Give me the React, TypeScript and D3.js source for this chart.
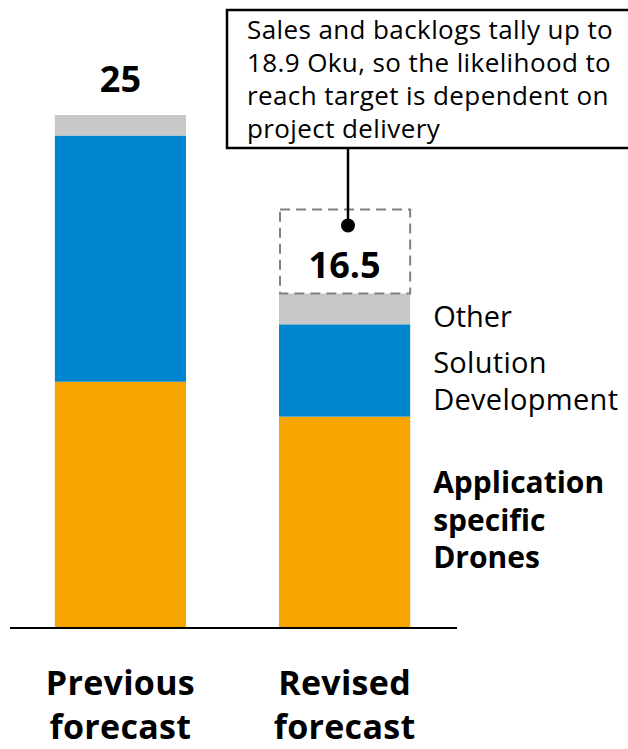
import React from "react";
import * as d3 from "d3";

const categories = ["Previous forecast", "Revised forecast"];
const categoryLines = [["Previous", "forecast"], ["Revised", "forecast"]];
const seriesKeys = ["drones", "solution", "other"];
const dronesValues = [12.0, 10.3];
const solutionValues = [12.0, 4.5];
const otherValues = [1.0, 1.5];
const totalLabels = ["25", "16.5"];
const legendLines = [["Other"], ["Solution", "Development"], ["Application", "specific", "Drones"]];
const calloutLines = [
  "Sales and backlogs tally up to",
  "18.9 Oku, so the likelihood to",
  "reach target is dependent on",
  "project delivery",
];

const colors: Record<string, string> = {
  drones: "#F7A600",
  solution: "#0086CE",
  other: "#C8C8C8",
};

const W = 628;
const H = 749;
const FONT = "'Open Sans', 'Noto Sans', sans-serif";

export default function App() {
  const rows = categories.map((c, i) => ({
    category: c,
    drones: dronesValues[i],
    solution: solutionValues[i],
    other: otherValues[i],
  }));
  const stacked = d3.stack<any>().keys(seriesKeys)(rows);

  const x = d3
    .scaleBand<string>()
    .domain(categories)
    .range([10, 455])
    .paddingInner(0.415)
    .paddingOuter(0.2);
  const y = d3.scaleLinear().domain([0, 25]).range([628, 115]);
  const bw = x.bandwidth();

  const totals = rows.map((r) => r.drones + r.solution + r.other);
  const bar2 = categories[1];
  const b2x = x(bar2)!;
  const b2top = y(totals[1]);
  const b2cx = b2x + bw / 2;

  const legendX = b2x + bw + 23;

  return (
    <svg
      width={W}
      height={H}
      style={{ position: "absolute", left: 0, top: 0, background: "#fff" }}
      fontFamily={FONT}
    >
      {stacked.map((s) => (
        <g key={s.key} fill={colors[s.key]}>
          {s.map((d, i) => (
            <rect
              key={i}
              x={x(categories[i])}
              y={y(d[1])}
              width={bw}
              height={y(d[0]) - y(d[1])}
            />
          ))}
        </g>
      ))}

      {/* baseline */}
      <line x1={10} x2={457} y1={y(0)} y2={y(0)} stroke="#000" strokeWidth={2.2} />

      {/* total label bar 1 */}
      <text
        x={x(categories[0])! + bw / 2}
        y={y(totals[0]) - 23}
        textAnchor="middle"
        fontWeight="bold"
        fontSize={36}
      >
        {totalLabels[0]}
      </text>

      {/* dashed box bar 2 */}
      <rect
        x={b2x + 1}
        y={b2top - 84}
        width={bw - 1}
        height={84}
        fill="none"
        stroke="#808080"
        strokeWidth={2}
        strokeDasharray="10 6"
      />
      <text x={b2cx} y={b2top - 16} textAnchor="middle" fontWeight="bold" fontSize={36}>
        {totalLabels[1]}
      </text>

      {/* callout */}
      <rect x={227} y={10} width={410} height={138} fill="#fff" stroke="#000" strokeWidth={2.5} />
      {calloutLines.map((t, i) => (
        <text key={i} x={247} y={39 + i * 33} fontSize={26} letterSpacing={0.4}>
          {t}
        </text>
      ))}
      <line x1={348} x2={348} y1={148} y2={b2top - 68} stroke="#000" strokeWidth={2.5} />
      <circle cx={348} cy={b2top - 68} r={7} fill="#000" />

      {/* legend */}
      {legendLines[0].map((t, i) => (
        <text key={"o" + i} x={legendX} y={327 + i * 37} fontSize={29}>
          {t}
        </text>
      ))}
      {legendLines[1].map((t, i) => (
        <text key={"s" + i} x={legendX} y={373 + i * 37} fontSize={29} letterSpacing={0.3}>
          {t}
        </text>
      ))}
      {legendLines[2].map((t, i) => (
        <text key={"a" + i} x={legendX} y={493 + i * 37.5} fontSize={30} fontWeight="bold">
          {t}
        </text>
      ))}

      {/* category labels */}
      {categoryLines.map((lines, ci) =>
        lines.map((t, li) => (
          <text
            key={ci + "-" + li}
            x={x(categories[ci])! + bw / 2}
            y={695 + li * 44}
            textAnchor="middle"
            fontWeight="bold"
            fontSize={34}
            letterSpacing={0.3}
          >
            {t}
          </text>
        ))
      )}
    </svg>
  );
}
